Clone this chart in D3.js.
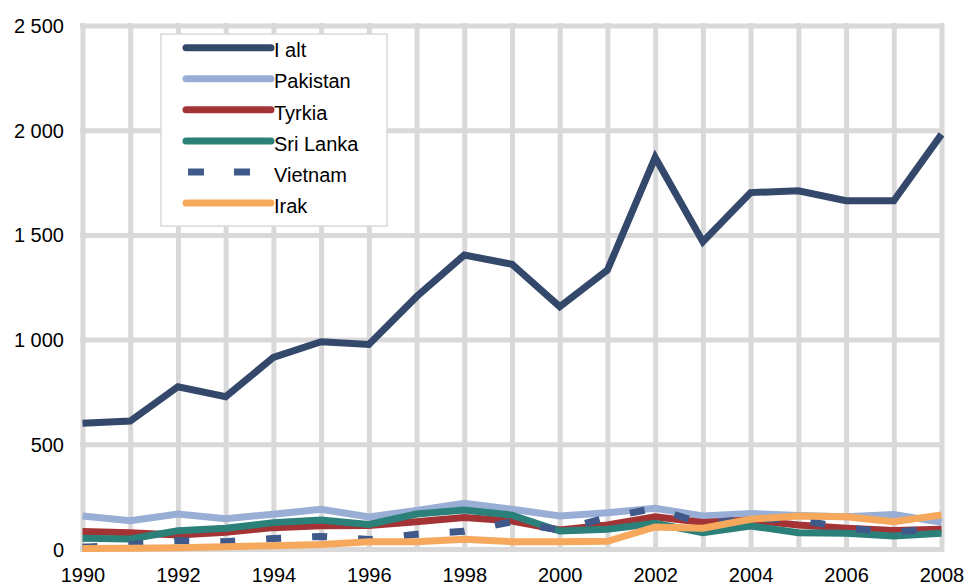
<!DOCTYPE html>
<html>
<head>
<meta charset="utf-8">
<script src="https://cdn.jsdelivr.net/npm/d3@7"></script>
<style>
  body { margin: 0; background: #fff; }
  svg { display: block; font-family: "Liberation Sans", Arial, sans-serif; }
</style>
</head>
<body>
<svg id="chart" width="966" height="585"></svg>
<script>
const years = [1990,1991,1992,1993,1994,1995,1996,1997,1998,1999,2000,2001,2002,2003,2004,2005,2006,2007,2008];
const iAlt     = [600, 611, 775, 727, 915, 990, 977, 1205, 1404, 1360, 1157, 1332, 1870, 1467, 1702, 1711, 1663, 1663, 1980];
const pakistan = [158, 135, 167, 145, 166, 190, 153, 184, 218, 190, 158, 173, 194, 158, 170, 160, 154, 165, 128];
const tyrkia   = [83, 78, 67, 80, 102, 111, 112, 130, 150, 134, 91, 115, 154, 127, 138, 115, 99, 88, 94];
const sriLanka = [51, 48, 87, 99, 126, 138, 117, 167, 186, 162, 86, 94, 123, 78, 110, 78, 75, 62, 75];
const vietnam  = [8, 22, 40, 35, 50, 60, 45, 70, 85, 130, 90, 150, 195, 120, 145, 140, 100, 80, 100];
const irak     = [2, 3, 6, 11, 16, 22, 35, 35, 46, 35, 35, 37, 105, 99, 142, 158, 154, 130, 162];

const seriesNames = ["I alt", "Pakistan", "Tyrkia", "Sri Lanka", "Vietnam", "Irak"];
const seriesValues = [iAlt, pakistan, tyrkia, sriLanka, vietnam, irak];
const seriesColors = ["#34486b", "#98aed5", "#a33335", "#2b8079", "#3f5a8a", "#f6a95c"];
const seriesDashed = [false, false, false, false, true, false];

const yTicks = [0, 500, 1000, 1500, 2000, 2500];
const yTickLabels = ["0", "500", "1 000", "1 500", "2 000", "2 500"];
const xTicks = [1990, 1992, 1994, 1996, 1998, 2000, 2002, 2004, 2006, 2008];
const xTickLabels = ["1990", "1992", "1994", "1996", "1998", "2000", "2002", "2004", "2006", "2008"];

(function () {
const svg = d3.select("#chart");
const pL = 82.5, pR = 941.5, pT = 25.5, pB = 549;

const x = d3.scaleLinear().domain([1990, 2008]).range([pL, pR]);
const y = d3.scaleLinear().domain([0, 2500]).range([pB, pT]);

const gridColor = "#d9d9d9";

// vertical gridlines (every year) via axis
const xGrid = svg.append("g")
  .attr("transform", `translate(0,${pB})`)
  .call(d3.axisBottom(x).tickValues(years).tickSize(-(pB - pT)).tickFormat(""));
xGrid.select(".domain").remove();
xGrid.selectAll("line").attr("stroke", gridColor).attr("stroke-width", 5).attr("stroke-linecap", "square");

// horizontal gridlines + y labels
const yAxis = svg.append("g")
  .attr("transform", `translate(${pL},0)`)
  .call(d3.axisLeft(y).tickValues(yTicks).tickSize(-(pR - pL)).tickPadding(18.5)
        .tickFormat((d, i) => yTickLabels[i]));
yAxis.select(".domain").remove();
yAxis.selectAll("line").attr("stroke", gridColor).attr("stroke-width", 5).attr("stroke-linecap", "square");
yAxis.selectAll("text").attr("dy", null).attr("y", 7)
  .attr("font-size", 20).attr("fill", "#000").attr("font-family", "Liberation Sans, Arial, sans-serif");

// x labels
const xAxis = svg.append("g")
  .attr("transform", `translate(0,${pB})`)
  .call(d3.axisBottom(x).tickValues(xTicks).tickSize(0).tickFormat((d, i) => xTickLabels[i]));
xAxis.select(".domain").remove();
xAxis.selectAll("text").attr("dy", null).attr("y", 33)
  .attr("font-size", 20).attr("fill", "#000").attr("font-family", "Liberation Sans, Arial, sans-serif");

// lines
const line = d3.line().x((d, i) => x(years[i])).y(d => y(d));
seriesValues.forEach((vals, k) => {
  const p = svg.append("path")
    .datum(vals)
    .attr("d", line)
    .attr("fill", "none")
    .attr("stroke", seriesColors[k])
    .attr("stroke-width", 7)
    .attr("stroke-linejoin", "miter")
    .attr("stroke-linecap", "butt");
  if (seriesDashed[k]) p.attr("stroke-dasharray", "15,31");
});

// legend
const lg = svg.append("g");
lg.append("rect").attr("x", 161).attr("y", 34).attr("width", 226).attr("height", 192)
  .attr("fill", "#fff").attr("stroke", gridColor).attr("stroke-width", 1.5);
const rowY = d3.scaleLinear().domain([0, 5]).range([47.7, 203]);
seriesNames.forEach((name, k) => {
  const yy = rowY(k);
  const l = lg.append("line")
    .attr("x1", seriesDashed[k] ? 188 : 186).attr("x2", 271)
    .attr("y1", yy).attr("y2", yy)
    .attr("stroke", seriesColors[k]).attr("stroke-width", 7)
    .attr("stroke-linecap", seriesDashed[k] ? "butt" : "round");
  if (seriesDashed[k]) l.attr("stroke-dasharray", "16,30");
  lg.append("text").attr("x", 274).attr("y", yy + 9.7)
    .attr("font-size", 20).attr("fill", "#000").text(name);
});
})();
</script>
</body>
</html>
